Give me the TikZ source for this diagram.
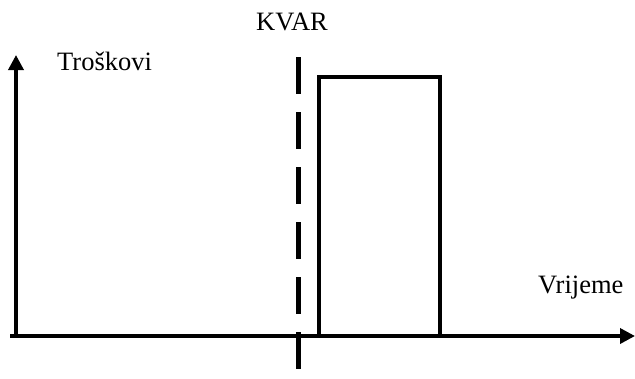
\documentclass[tikz,border=0pt]{standalone}
\usepackage{fontspec}
\setmainfont{Liberation Serif}
\usetikzlibrary{arrows.meta}
\begin{document}
\begin{tikzpicture}[x=1pt,y=-1pt,
  axis/.style={line width=3.5pt,-{Triangle[length=15pt,width=15pt]}},
  lbl/.style={font=\fontsize{26.5}{28}\selectfont, inner sep=0pt, anchor=base west},
  fault/.style={line width=5pt, dash pattern=on 37pt off 18pt},
  cost/.style={line width=3.5pt, line join=miter}]
\useasboundingbox (0,0) rectangle (635,378);
\coordinate (o) at (16,336);
\coordinate (ytop) at (16,55);
\coordinate (xend) at (635,336);
\draw[axis] (10,336) -- (xend);
\draw[axis] (o) -- (ytop);
\coordinate (ftop) at (298,57);
\coordinate (fbot) at (298,378);
\draw[fault] (ftop) -- (fbot);
\coordinate (r1) at (319,336);
\coordinate (r2) at (319,77);
\coordinate (r3) at (440,77);
\coordinate (r4) at (440,336);
\draw[cost] (r1) -- (r2) -- (r3) -- (r4);
\node[lbl] (kvar) at (256,30) {KVAR};
\node[lbl] (tros) at (57,70) {Troškovi};
\node[lbl] (vrij) at (538,293) {Vrijeme};
\end{tikzpicture}
\end{document}
